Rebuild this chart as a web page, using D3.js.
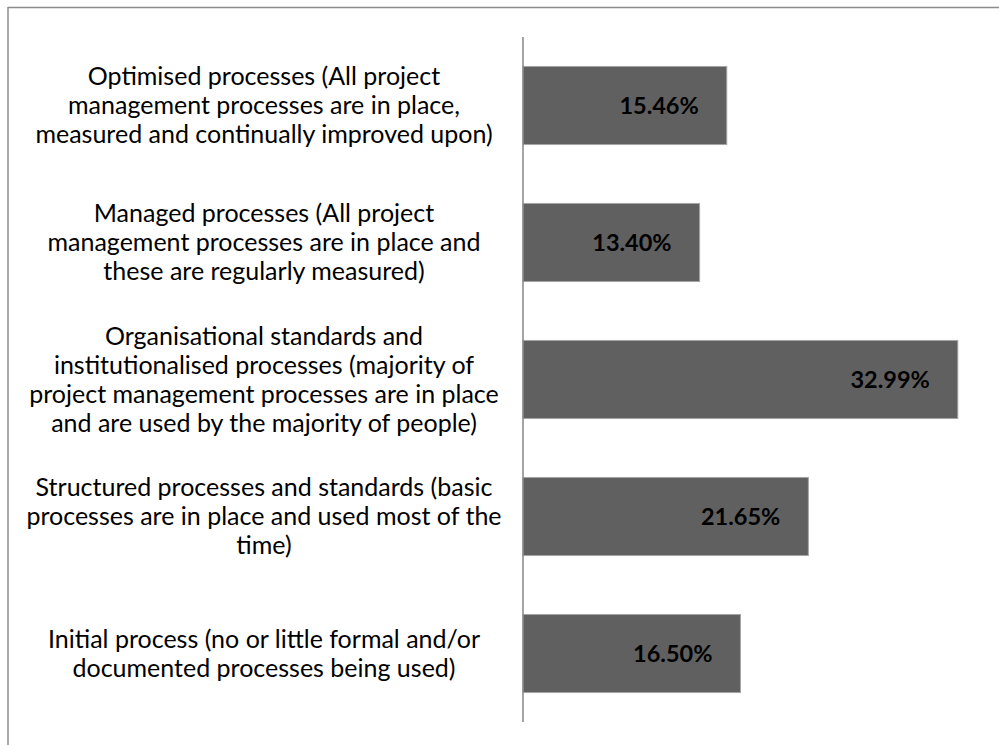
<!DOCTYPE html>
<html>
<head>
<meta charset="utf-8">
<script src="https://cdn.jsdelivr.net/npm/d3@7"></script>
<style>
  body { margin: 0; background: #fff; }
  svg { display: block; }
</style>
</head>
<body>
<div id="chart"></div>
<script>
// Categories, top to bottom, already broken into lines as in the chart
const categories = [
  ["Optimised processes (All project", "management processes are in place,", "measured and continually improved upon)"],
  ["Managed processes (All project", "management processes are in place and", "these are regularly measured)"],
  ["Organisational standards and", "institutionalised processes (majority of", "project management processes are in place", "and are used by the majority of people)"],
  ["Structured processes and standards (basic", "processes are in place and used most of the", "time)"],
  ["Initial process (no or little formal and/or", "documented processes being used)"]
];
const values = [15.46, 13.40, 32.99, 21.65, 16.50];
const valueLabels = ["15.46%", "13.40%", "32.99%", "21.65%", "16.50%"];

const width = 999;
const height = 745;

const svg = d3.select("#chart").append("svg")
  .attr("width", width)
  .attr("height", height);

// Chart frame (only the top and left edges fall inside the picture)
svg.append("line")
  .attr("x1", 8).attr("y1", 7.5).attr("x2", width).attr("y2", 7.5)
  .attr("stroke", "#8c8c8c").attr("stroke-width", 1.5);
svg.append("line")
  .attr("x1", 8).attr("y1", 7).attr("x2", 8).attr("y2", height)
  .attr("stroke", "#8c8c8c").attr("stroke-width", 1.5);

const plotLeft = 523;
const plotTop = 37;
const plotBottom = 722;

const x = d3.scaleLinear()
  .domain([0, 35])
  .range([plotLeft, plotLeft + 461.3]);

const y = d3.scaleBand()
  .domain(d3.range(values.length))
  .range([plotTop, plotBottom])
  .paddingInner(0.43)
  .paddingOuter(0.215);

// Bars
svg.append("g")
  .selectAll("rect")
  .data(values)
  .join("rect")
  .attr("x", x(0))
  .attr("y", (d, i) => y(i))
  .attr("width", d => x(d) - x(0))
  .attr("height", y.bandwidth())
  .attr("fill", "#606060")
  .attr("stroke", "#a6a6a6")
  .attr("stroke-width", 1);

// Value labels inside the bar ends
svg.append("g")
  .selectAll("text")
  .data(values)
  .join("text")
  .attr("x", d => x(d) - 28)
  .attr("y", (d, i) => y(i) + y.bandwidth() / 2)
  .attr("dy", "0.36em")
  .attr("text-anchor", "end")
  .attr("font-family", "Lato, 'Noto Sans', sans-serif")
  .attr("font-weight", "bold")
  .attr("font-size", "23.5px")
  .attr("fill", "#000")
  .text((d, i) => valueLabels[i]);

// Vertical category axis
svg.append("line")
  .attr("x1", plotLeft).attr("x2", plotLeft)
  .attr("y1", plotTop).attr("y2", plotBottom)
  .attr("stroke", "#868686").attr("stroke-width", 1.5);

// Category labels, centred between the frame and the axis
const labelX = 264;
const lineHeight = 29;
const labelG = svg.append("g")
  .attr("font-family", "Lato, 'Noto Sans', sans-serif")
  .attr("font-size", "25px")
  .attr("fill", "#000")
  .attr("text-anchor", "middle");

categories.forEach((lines, i) => {
  const cy = y(i) + y.bandwidth() / 2;
  const t = labelG.append("text")
    .attr("x", labelX)
    .attr("y", cy - (lines.length - 1) * lineHeight / 2);
  lines.forEach((line, k) => {
    t.append("tspan")
      .attr("x", labelX)
      .attr("dy", k === 0 ? "0.35em" : lineHeight)
      .text(line);
  });
});
</script>
</body>
</html>
